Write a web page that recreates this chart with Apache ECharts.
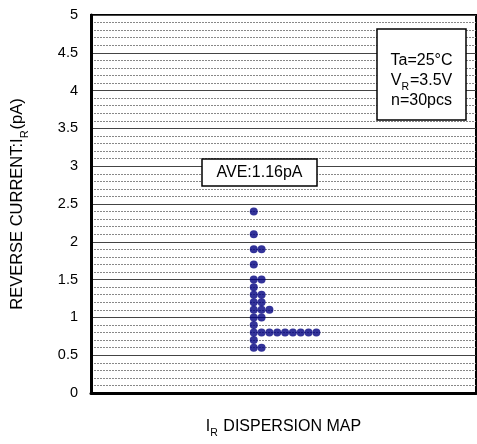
<!DOCTYPE html>
<html>
<head>
<meta charset="utf-8">
<script src="https://cdn.jsdelivr.net/npm/echarts@6/dist/echarts.min.js"></script>
<style>html,body{margin:0;padding:0;background:#fff}#c{width:477px;height:444px}</style>
</head>
<body>
<div id="c"></div>
<script>
// Reverse current readings (pA), 30 pcs
const currentValues = [2.4, 2.1, 1.9, 1.9, 1.7, 1.5, 1.5, 1.4, 1.3, 1.3, 1.2, 1.2,
  1.1, 1.1, 1.1, 1.0, 1.0, 0.9, 0.8, 0.8, 0.8, 0.8, 0.8, 0.8, 0.8, 0.8, 0.8, 0.7, 0.6, 0.6];
const yTickValues = [0, 0.5, 1, 1.5, 2, 2.5, 3, 3.5, 4, 4.5, 5];
const conditionLines = ['Ta=25°C', 'V_R=3.5V', 'n=30pcs'];

// stack duplicate values side by side (dot plot)
const counts = {};
const points = currentValues.map(v => {
  const k = v.toFixed(1);
  counts[k] = (counts[k] || 0);
  const idx = counts[k]++;
  return [idx, v];
});
const avg = currentValues.reduce((a, b) => a + b, 0) / currentValues.length;

const font = 'Liberation Sans, Arial, sans-serif';
const chart = echarts.init(document.getElementById('c'), null, {renderer: 'canvas'});
chart.setOption({
  animation: false,
  backgroundColor: '#fff',
  grid: {left: 91, right: 1, top: 15, bottom: 44, show: true, borderColor: '#000', borderWidth: 2, backgroundColor: 'transparent'},
  xAxis: {
    type: 'value', min: -20.8, max: 28.4,
    axisLine: {show: true, onZero: false, lineStyle: {color: '#000', width: 3}},
    axisTick: {show: false}, axisLabel: {show: false}, splitLine: {show: false},
    name: '{n|I}{s|R}{n| DISPERSION MAP}', nameLocation: 'middle', nameGap: 23,
    nameTextStyle: {rich: {
      n: {fontFamily: font, fontSize: 16, color: '#000', lineHeight: 19, verticalAlign: 'bottom'},
      s: {fontFamily: font, fontSize: 10.5, color: '#000', lineHeight: 19, verticalAlign: 'bottom', padding: [0, 1, -4, 0]}
    }}
  },
  yAxis: {
    type: 'value', min: 0, max: 5, interval: 0.5,
    axisLine: {show: true, onZero: false, lineStyle: {color: '#000', width: 3}},
    axisTick: {show: false},
    axisLabel: {margin: 13, fontFamily: font, fontSize: 14.5, color: '#000',
      formatter: v => yTickValues.includes(v) ? String(v) : ''},
    splitLine: {show: true, lineStyle: {color: '#444', width: 1}},
    minorTick: {show: false, splitNumber: 5},
    minorSplitLine: {show: true, lineStyle: {color: '#888', width: 1, type: [2, 1]}},
    name: '{n|REVERSE CURRENT:I}{s|R}{n|(pA)}', nameLocation: 'middle', nameGap: 65, nameRotate: 90,
    nameTextStyle: {rich: {
      n: {fontFamily: font, fontSize: 16.5, color: '#000', lineHeight: 19, verticalAlign: 'bottom'},
      s: {fontFamily: font, fontSize: 11, color: '#000', lineHeight: 19, verticalAlign: 'bottom', padding: [0, 1, -4, 0]}
    }}
  },
  series: [{
    type: 'scatter', data: points, symbol: 'circle', symbolSize: 8,
    itemStyle: {color: '#000080'}, z: 5
  }],
  graphic: [
    {type: 'rect', z: 100, shape: {x: 377, y: 29, width: 89, height: 91},
      style: {fill: '#fff', stroke: '#000', lineWidth: 1.5}},
    {type: 'text', z: 101, x: 421.5, y: 79,
      style: {
        text: conditionLines.map(l => l.includes('_') ? '{n|' + l.split('_')[0] + '}{s|' + l.split('_')[1][0] + '}{n|' + l.split('_')[1].slice(1) + '}' : '{n|' + l + '}').join('\n'),
        align: 'center', verticalAlign: 'middle',
        rich: {
          n: {fontFamily: font, fontSize: 16, fill: '#000', lineHeight: 20, verticalAlign: 'bottom'},
          s: {fontFamily: font, fontSize: 10.5, fill: '#000', lineHeight: 20, verticalAlign: 'bottom', padding: [0, 1, -4, 0]}
        }
      }},
    {type: 'rect', z: 100, shape: {x: 202, y: 159, width: 115, height: 27},
      style: {fill: '#fff', stroke: '#000', lineWidth: 1.5}},
    {type: 'text', z: 101, x: 259.5, y: 173,
      style: {text: 'AVE:' + avg.toFixed(2) + 'pA', align: 'center', verticalAlign: 'middle',
        fontFamily: font, fontSize: 16, fill: '#000'}}
  ]
});
</script>
</body>
</html>
